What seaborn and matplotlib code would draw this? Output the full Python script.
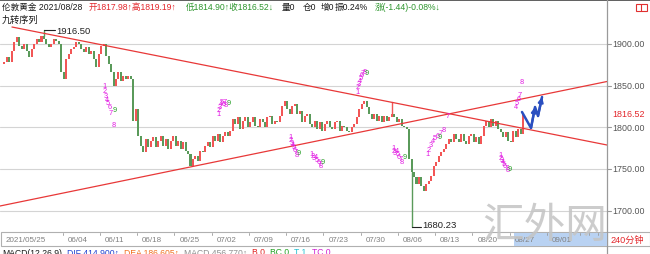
import matplotlib
matplotlib.use("Agg")
import matplotlib.pyplot as plt
import seaborn as sns
import numpy as np
import pandas as pd
from matplotlib.patches import Rectangle

sns.set_theme(style="white")
plt.rcParams['font.family'] = ['Liberation Sans', 'Noto Sans CJK SC', 'DejaVu Sans']

# ---------------- data ----------------
first_open = 1876.0
closes = [
    1878, 1884, 1878, 1892, 1902, 1908, 1898, 1894, 1900, 1892,
    1884, 1894, 1900, 1906, 1902, 1910, 1906, 1900, 1896, 1900,
    1906, 1904, 1900, 1866, 1858, 1882, 1888, 1894, 1896, 1902,
    1900, 1894, 1890, 1896, 1888, 1892, 1882, 1872, 1888, 1898,
    1900, 1886, 1876, 1866, 1850, 1858, 1866, 1856, 1862, 1858,
    1862, 1858, 1808, 1822, 1790, 1778, 1770, 1786, 1776, 1784,
    1788, 1776, 1784, 1790, 1778, 1786, 1774, 1784, 1790, 1778,
    1784, 1774, 1782, 1772, 1768, 1754, 1762, 1766, 1760, 1772,
    1770, 1778, 1782, 1776, 1790, 1784, 1792, 1782, 1790, 1794,
    1790, 1796, 1810, 1804, 1812, 1798, 1808, 1812, 1800, 1806,
    1812, 1802, 1800, 1810, 1806, 1800, 1812, 1814, 1804, 1808,
    1806, 1814, 1826, 1832, 1822, 1816, 1826, 1828, 1816, 1820,
    1806, 1814, 1816, 1804, 1800, 1808, 1798, 1806, 1796, 1804,
    1808, 1800, 1798, 1806, 1808, 1796, 1802, 1800, 1796, 1794,
    1800, 1804, 1812, 1822, 1828, 1832, 1824, 1816, 1810, 1816,
    1808, 1814, 1806, 1814, 1808, 1812, 1816, 1812, 1806, 1810,
    1802, 1800, 1798, 1762, 1746, 1740, 1732, 1740, 1730, 1724,
    1732, 1736, 1742, 1754, 1758, 1766, 1770, 1774, 1780, 1786,
    1782, 1792, 1786, 1782, 1792, 1784, 1780, 1790, 1792, 1782,
    1788, 1780, 1790, 1802, 1808, 1800, 1810, 1802, 1808, 1798,
    1794, 1788, 1794, 1784, 1782, 1796, 1788, 1798, 1792, 1816.52,
]
bars_per_day = 3
extreme_bars = [16, 156, 164]
extreme_vals = [1916.50, 1831.0, 1680.23]

# trend lines (day, price) endpoints
down_days = [1.2, 81.07]
down_prices = [1920.4, 1778.8]
up_days = [-0.403, 81.07]
up_prices = [1705.6, 1855.0]

# projected path (blue)
proj_days = [69.66, 70.87, 71.41, 71.81, 72.35]
proj_prices = [1818.4, 1799.2, 1824.4, 1813.6, 1836.4]

# date axis
date_labels = ["2021/05/25", "06/04", "06/11", "06/18", "06/25", "07/02", "07/09",
               "07/16", "07/23", "07/30", "08/06", "08/13", "08/20", "08/27", "09/01"]
date_days = [0, 8, 13, 18, 23, 28, 33, 38, 43, 48, 53, 58, 63, 68, 73]
extra_tick_days = [77.5, 78.6, 79.8]

y_ticks = [1900, 1850, 1800, 1750, 1700]
last_price = 1816.52

# TD sequential digits (day, price, label, color)
td_days = [13.56, 13.69, 13.83, 13.96, 14.09, 14.36, 14.50, 14.90, 15.03,
           28.86, 28.99, 29.13, 29.26, 29.40, 29.66, 29.80, 29.93, 30.34,
           38.52, 38.66, 38.79, 38.93, 39.06, 39.19, 39.33, 39.46, 39.73,
           41.34, 41.61, 41.74, 42.01, 42.15, 42.42, 42.55, 42.68, 42.95,
           47.52, 47.65, 47.79, 47.92, 48.05, 48.19, 48.32, 48.59, 48.86,
           52.35, 52.48, 52.62, 52.89, 53.02, 53.15, 53.42, 53.56, 53.96,
           56.91, 57.18, 57.45, 57.72, 57.99, 58.39, 58.79, 59.19, 58.66, 59.73,
           66.71, 66.85, 66.98, 67.11, 67.25, 67.38, 67.65, 67.79, 68.05,
           68.86, 68.99, 69.26, 69.40, 69.66]
td_prices = [1849.6, 1843.6, 1837.6, 1832.8, 1829.2, 1824.4, 1817.2, 1802.8, 1820.8,
             1816.0, 1820.8, 1824.4, 1828.0, 1830.4, 1828.0, 1830.4, 1826.8, 1829.2,
             1788.4, 1784.8, 1781.2, 1778.8, 1776.4, 1772.8, 1770.4, 1766.8, 1769.2,
             1768.0, 1765.6, 1763.2, 1764.4, 1760.8, 1758.4, 1756.0, 1753.6, 1758.4,
             1842.4, 1848.4, 1852.0, 1855.6, 1859.2, 1862.8, 1865.2, 1866.4, 1865.2,
             1775.2, 1771.6, 1769.2, 1771.6, 1768.0, 1764.4, 1762.0, 1758.4, 1764.4,
             1768.0, 1772.8, 1778.8, 1783.6, 1787.2, 1789.6, 1793.2, 1796.8, 1788.4, 1813.6,
             1766.8, 1763.2, 1760.8, 1758.4, 1756.0, 1753.6, 1751.2, 1748.8, 1750.0,
             1824.4, 1829.2, 1834.0, 1838.8, 1854.4]
td_labels = list("123456789") * 6 + list("123456789") + ["7"] + list("123456789") + list("45678")
td_green = ([False] * 8 + [True]) * 6 + [False] * 8 + [True, False] + [False] * 8 + [True] + [False] * 5

# ---------------- layout ----------------
W, H = 650, 255
PLOT_R, PLOT_B = 607, 232
XMIN, XMAX = -0.403, 81.07
YMIN, YMAX = 1675.6, 1954.0

def px(day):
    return (day - XMIN) / (XMAX - XMIN) * PLOT_R

def py(price):
    return (YMAX - price) / (YMAX - YMIN) * PLOT_B

fig = plt.figure(figsize=(6.5, 2.55), dpi=100)
fig.patch.set_facecolor("white")
ax = fig.add_axes([0, 1 - PLOT_B / H, PLOT_R / W, PLOT_B / H])
ax.set_xlim(XMIN, XMAX)
ax.set_ylim(YMIN, YMAX)
ax.set_axis_off()

for v in y_ticks:
    ax.axhline(v, color="#d4d4d4", lw=0.8, zorder=0)

n = len(closes)
opens = [first_open] + closes[:-1]
df = pd.DataFrame({"day": (np.arange(n) + 0.5) / bars_per_day,
                   "open": opens, "close": closes})
df["up"] = df["close"] >= df["open"]
df["lo"] = df[["open", "close"]].min(axis=1)
df["hi"] = df[["open", "close"]].max(axis=1)
UP, DOWN = "#f25656", "#5a9a5a"
cols = np.where(df["up"], UP, DOWN)
ax.bar(df["day"], np.maximum(df["hi"] - df["lo"], 1.0), bottom=df["lo"],
       width=0.27, color=cols, linewidth=0, zorder=3)

# extreme wicks
for b, v in zip(extreme_bars, extreme_vals):
    d = df.loc[b, "day"]
    base = df.loc[b, "hi"] if v > df.loc[b, "hi"] else df.loc[b, "lo"]
    ax.plot([d, d], [base, v], color=cols[b], lw=1.0, zorder=3)

# trend lines
tl = pd.DataFrame({"day": down_days + up_days, "price": down_prices + up_prices,
                   "line": ["down", "down", "up", "up"]})
sns.lineplot(data=tl, x="day", y="price", units="line", estimator=None,
             color="#e83838", lw=0.9, ax=ax, zorder=4, legend=False)

# projection
pj = pd.DataFrame({"day": proj_days, "price": proj_prices})
sns.lineplot(data=pj, x="day", y="price", sort=False, estimator=None,
             color="#2a4fc0", lw=1.8, ax=ax, zorder=6)
for i in (2, 4):
    ax.annotate("", xy=(proj_days[i], proj_prices[i]),
                xytext=(proj_days[i - 1], proj_prices[i - 1]),
                arrowprops=dict(arrowstyle="-|>", color="#2a4fc0", lw=1.6,
                                mutation_scale=7, shrinkA=0, shrinkB=0), zorder=6)

# TD digits
for d, p, t, g in zip(td_days, td_prices, td_labels, td_green):
    ax.text(d, p, t, fontsize=5.3, color="#2aa02a" if g else "#e21ce2",
            ha="center", va="center", zorder=5)

ax.set_xlabel("")
ax.set_ylabel("")

# ---------------- overlay in pixel coords ----------------
ov = fig.add_axes([0, 0, 1, 1], zorder=10)
ov.set_xlim(0, W)
ov.set_ylim(H, 0)
ov.set_axis_off()
ov.patch.set_alpha(0)
renderer = fig.canvas.get_renderer()

def seq_text(segments, x, y, size, va, gap):
    for t, c in segments:
        tx = ov.text(x, y, t, fontsize=size, color=c, ha="left", va=va)
        bb = tx.get_window_extent(renderer=renderer)
        x += bb.width + gap

# extreme labels
b0 = extreme_bars[0]
x0 = px(df.loc[b0, "day"])
ov.plot([x0, x0 + 11], [py(extreme_vals[0])] * 2, color="#222222", lw=0.8)
ov.text(x0 + 12, py(extreme_vals[0]), f"{extreme_vals[0]:.2f}", fontsize=6.8,
        color="#222222", va="center", ha="left")
b2 = extreme_bars[2]
x2 = px(df.loc[b2, "day"])
ov.plot([x2, x2 + 9], [py(extreme_vals[2])] * 2, color="#222222", lw=0.8)
ov.text(x2 + 11, py(extreme_vals[2]) - 3, f"{extreme_vals[2]:.2f}", fontsize=6.8,
        color="#222222", va="center", ha="left")

# borders
ov.plot([0, W], [0.5, 0.5], color="#444444", lw=1.2)
ov.plot([PLOT_R, PLOT_R], [0, H], color="#9a9a9a", lw=0.9)

# header
RED, GREEN, BLACK = "#e3262b", "#2e962e", "#1a1a1a"
header = [("伦敦黄金 2021/08/28", 2, BLACK), ("开1817.98↑高1819.19↑", 89, RED),
          ("低1814.90↑收1816.52↓", 186, GREEN), ("量0", 282, BLACK), ("仓0", 303, BLACK),
          ("增0", 321, BLACK), ("振0.24%", 335, BLACK), ("涨(-1.44)-0.08%↓", 375, GREEN)]
for t, x, c in header:
    ov.text(x, 7.5, t, fontsize=6.2, color=c, ha="left", va="center")
ov.text(2, 20, "九转序列", fontsize=6.6, color=BLACK, ha="left", va="center")
ov.add_patch(Rectangle((636, 5), 11, 7, fill=False, edgecolor="#e03030", lw=0.8))
ov.plot([641, 641], [5, 12], color="#e03030", lw=0.8)

# right price axis
for v in y_ticks:
    ov.plot([PLOT_R, PLOT_R + 4], [py(v)] * 2, color="#9a9a9a", lw=0.8)
    ov.text(PLOT_R + 5, py(v), f"{v:.2f}", fontsize=6.4, color="#555555",
            ha="left", va="center")
ov.text(PLOT_R + 5, py(last_price), f"{last_price:.2f}", fontsize=6.4,
        color="#e3262b", ha="left", va="center")

# time strip
ov.add_patch(Rectangle((0.5, 233), PLOT_R - 0.5, 14, facecolor="white",
                       edgecolor="#b0b0b0", lw=0.8, zorder=1))
ov.add_patch(Rectangle((px(date_days[-2]) + 4, 234), PLOT_R - px(date_days[-2]) - 4, 12.5,
                       facecolor="#b9d2f2", edgecolor="none", zorder=2))
for lab, d in zip(date_labels, date_days):
    xx = px(d)
    if d > 0:
        ov.plot([xx, xx], [233.5, 236], color="#999999", lw=0.6, zorder=3)
    ov.text(xx + (3 if d == 0 else 5), 240.5, lab, fontsize=5.8, color="#808080",
            ha="left", va="center", zorder=3)
for d in extra_tick_days:
    ov.plot([px(d)] * 2, [233.5, 236], color="#999999", lw=0.6, zorder=3)
ov.add_patch(Rectangle((PLOT_R, 233), W - PLOT_R - 0.5, 14, facecolor="white",
                       edgecolor="#b0b0b0", lw=0.8, zorder=1))
ov.text(PLOT_R + 3, 240.5, "240分钟", fontsize=6.6, color="#e3262b",
        ha="left", va="center", zorder=3)

# MACD row
macd = [("MACD(12,26,9)", BLACK), ("DIF 414.900↑", "#2040d0"),
        ("DEA 186.605↑", "#f07020"), ("MACD 456.770↑", "#909090"),
        ("B 0", "#e02020"), ("BC 0", "#20a020"), ("T 1", "#20c0d0"),
        ("TC 0", "#d020d0")]
seq_text(macd, 2, 248.5, 6.2, "top", 5)

# watermark
ov.text(545, 227, "汇外网", fontsize=30, color="#c4c4c4", alpha=0.85,
        ha="center", va="center", fontweight="light",
        family=["Noto Sans CJK SC"], zorder=20)

fig.savefig("out.png", dpi=100, facecolor="white")
